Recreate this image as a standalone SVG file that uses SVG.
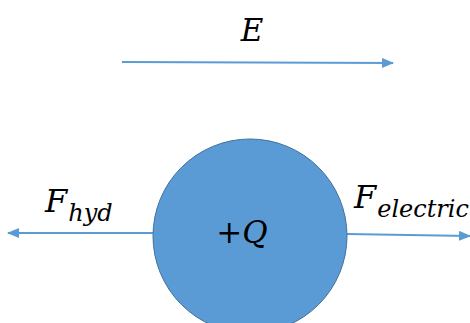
<svg xmlns="http://www.w3.org/2000/svg" width="470" height="323" viewBox="0 0 470 323">
<defs>
<style>
.ln{stroke:#5B9BD5;stroke-width:2;fill:none}
text{font-family:'DejaVu Serif','Liberation Serif',serif;fill:#000}
.i{font-style:italic}
</style>
<marker id="ah" viewBox="0 0 12 10" refX="11" refY="5" markerWidth="12" markerHeight="10" markerUnits="userSpaceOnUse" orient="auto">
<path d="M0,0 L12,5 L0,10 Z" fill="#5B9BD5"/>
</marker>
</defs>
<rect width="470" height="323" fill="#fff"/>
<g id="connectors">
<line class="ln" x1="122" y1="62" x2="393" y2="63" marker-end="url(#ah)"/>
<line class="ln" x1="153" y1="233" x2="8" y2="233" marker-end="url(#ah)"/>
<line class="ln" x1="347" y1="234" x2="470" y2="236" marker-end="url(#ah)"/>
</g>
<g id="charge">
<circle cx="250" cy="236" r="97" fill="#5B9BD5" stroke="#41719C" stroke-width="1"/>
<text x="242" y="243" font-size="31" text-anchor="middle">+<tspan class="i">Q</tspan></text>
</g>
<g id="label-E">
<text class="i" x="252" y="41" font-size="31" text-anchor="middle">E</text>
</g>
<g id="label-Fhyd">
<text class="i" x="45" y="212" font-size="32">F<tspan font-size="24" dy="9" dx="1">hyd</tspan></text>
</g>
<g id="label-Felectric">
<text class="i" x="354" y="208" font-size="32">F<tspan font-size="24" dy="9" dx="1">electric</tspan></text>
</g>
</svg>
